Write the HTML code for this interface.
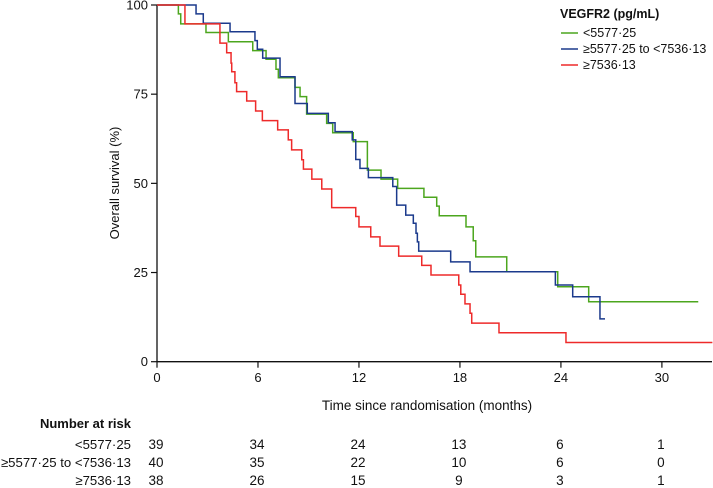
<!DOCTYPE html>
<html><head><meta charset="utf-8"><style>
body{margin:0;background:#fff;}
svg{display:block;font-family:"Liberation Sans",sans-serif;}
</style></head><body>
<svg id="chart" width="713" height="488" viewBox="0 0 713 488"></svg>
<script>
const xTicks=[0,6,12,18,24,30];
const yTicks=[0,25,50,75,100];
const groupNames=["<5577·25","≥5577·25 to <7536·13","≥7536·13"];
const groupColors=["#4ca61e","#1b3a8c","#ee2a2a"];
const greenT=[0,1.27,1.41,2.91,4.24,5.69,6.48,7.07,7.21,8.20,8.50,8.89,10.08,10.44,11.66,12.50,13.31,14.30,15.86,16.62,16.77,18.36,18.79,18.94,20.78,23.81,25.65,32.16];
const greenS=[100,97.5,94.7,92.3,89.7,87.2,84.8,82.0,79.6,76.9,74.3,69.4,66.8,64.2,61.7,53.7,51.2,48.6,46.1,43.6,40.9,37.8,33.9,29.4,25.2,21.0,16.8,16.8];
const blueT=[0,2.32,2.75,4.34,5.82,5.96,6.28,7.31,8.20,8.93,10.18,10.58,11.60,11.81,12.06,12.56,14.01,14.24,14.78,15.23,15.39,15.47,15.55,17.45,18.60,23.67,24.70,26.32,26.62];
const blueS=[100,97.5,94.9,92.5,90.0,87.6,85.1,79.9,72.4,69.6,67.0,64.5,62.2,56.7,54.2,51.6,49.1,43.9,41.1,38.8,36.0,33.6,31.0,28.0,25.2,21.5,18.2,12.0,12.0];
const redT=[0,1.66,3.74,4.14,4.40,4.44,4.63,4.73,5.33,5.86,6.26,7.17,7.80,8.00,8.60,8.70,9.20,9.79,10.38,11.81,12.0,12.70,13.25,14.36,15.73,16.28,17.93,18.05,18.30,18.60,18.70,20.32,24.30,33.0];
const redS=[100,94.7,89.3,86.6,83.7,81.3,78.2,75.7,73.1,70.3,67.6,65.0,62.2,59.4,56.6,54.0,51.2,48.4,43.2,40.7,37.8,35.0,32.4,29.6,27.0,24.3,21.5,18.9,16.2,13.6,10.8,8.1,5.4,5.4];
const riskTimes=[0,6,12,18,24,30];
const riskGreen=[39,34,24,13,6,1];
const riskBlue=[40,35,22,10,6,0];
const riskRed=[38,26,15,9,3,1];

const NS="http://www.w3.org/2000/svg";
const svg=document.getElementById("chart");
const X0=157,PX=16.83,Y0=361.7,PY=3.567;
const sx=t=>X0+t*PX, sy=v=>Y0-v*PY;
function mk(tag,attrs,parent){const e=document.createElementNS(NS,tag);for(const k in attrs)e.setAttribute(k,attrs[k]);(parent||svg).appendChild(e);return e;}
function txt(s,x,y,anchor,size,weight){const e=mk("text",{x:x,y:y,"text-anchor":anchor,"font-size":size,"font-weight":weight||"normal",fill:"#111"});e.textContent=s;return e;}

const ya=mk("line",{x1:X0,y1:sy(100),x2:X0,y2:Y0,stroke:"#111","stroke-width":1.3});


const xa=mk("line",{x1:X0,y1:Y0,x2:712,y2:Y0,stroke:"#111","stroke-width":1.3});


yTicks.forEach(v=>{
  const l=mk("line",{x1:X0-6,y1:sy(v),x2:X0,y2:sy(v),stroke:"#111","stroke-width":1.2});
  
  
  const t=txt(String(v),X0-9,sy(v)+4.5,"end",13);
  
  
});
xTicks.forEach(v=>{
  const l=mk("line",{x1:sx(v),y1:Y0,x2:sx(v),y2:Y0+6,stroke:"#111","stroke-width":1.2});
  
  
  const t=txt(String(v),sx(v),382,"middle",13);
  
  
});
const yt=txt("Overall survival (%)",0,0,"middle",13);
yt.setAttribute("transform","translate(119,183) rotate(-90)");


const xt=txt("Time since randomisation (months)",427,410,"middle",13.5);



function curve(T,S,color,name){
  let d="M"+sx(T[0])+" "+sy(S[0]);
  for(let i=1;i<T.length;i++){d+=" H"+sx(T[i])+" V"+sy(S[i]);}
  const p=mk("path",{d:d,fill:"none",stroke:color,"stroke-width":1.5});
  
  
}
curve(greenT,greenS,groupColors[0],"curve-low");
curve(blueT,blueS,groupColors[1],"curve-mid");
curve(redT,redS,groupColors[2],"curve-high");

const lt=txt("VEGFR2 (pg/mL)",560,18,"start",12.5,"bold");


groupNames.forEach((n,i)=>{
  const y=33+i*16;
  const l=mk("line",{x1:561,y1:y,x2:578,y2:y,stroke:groupColors[i],"stroke-width":1.6});
  
  
  const t=txt(n,583,y+4,"start",12.5);
  
  
});

const rh=txt("Number at risk",131,428,"end",13,"bold");


[riskGreen,riskBlue,riskRed].forEach((row,i)=>{
  const y=449+i*18;
  const lab=txt(groupNames[i],131,y,"end",13.2);
  
  
  row.forEach((v,j)=>{
    const t=txt(String(v),sx(riskTimes[j])-1,y,"middle",13.5);
    
    
  });
});
</script>
</body></html>
